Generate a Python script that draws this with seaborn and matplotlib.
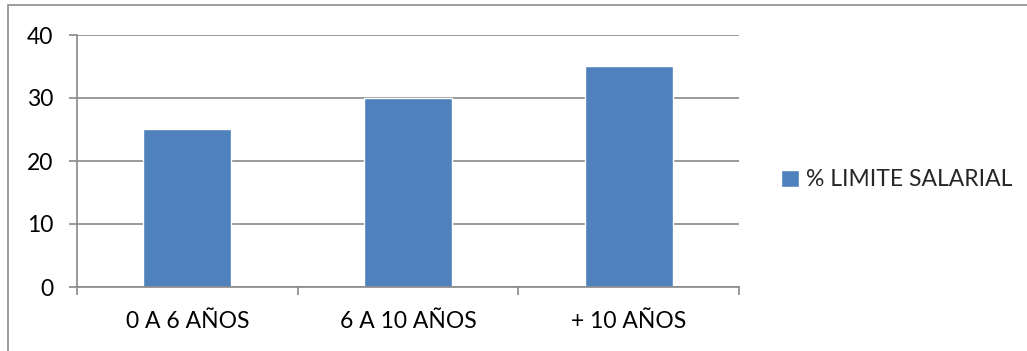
import matplotlib
matplotlib.use("Agg")
import matplotlib.pyplot as plt
from matplotlib.patches import Rectangle
import seaborn as sns
import pandas as pd

categories = ["0 A 6 AÑOS", "6 A 10 AÑOS", "+ 10 AÑOS"]
values = [25, 30, 35]
series_name = "% LIMITE SALARIAL"
y_ticks = [0, 10, 20, 30, 40]

df = pd.DataFrame({"grupo": categories, "valor": values, "serie": series_name})

sns.set_theme(style="white")
plt.rcParams["font.family"] = ["Lato", "DejaVu Sans"]

BAR = "#4F81BD"
GRID = "#898989"

fig = plt.figure(figsize=(10.27, 3.51), dpi=100)
ax = fig.add_axes([77 / 1027, 1 - 287 / 351, (739 - 77) / 1027, (287 - 35) / 351])

sns.barplot(data=df, x="grupo", y="valor", hue="serie", palette=[BAR],
            width=0.4, ax=ax, legend=True, saturation=1)

ax.set_xlim(-0.5, 2.5)
ax.set_ylim(0, 40)
ax.set_yticks(y_ticks)
ax.set_xlabel("")
ax.set_ylabel("")

ax.yaxis.grid(True, color=GRID, linewidth=1.2)
ax.set_axisbelow(True)
for side in ["top", "right"]:
    ax.spines[side].set_visible(False)
for side in ["left", "bottom"]:
    ax.spines[side].set_color(GRID)
    ax.spines[side].set_linewidth(1.2)

ax.tick_params(axis="y", which="major", length=6, width=1.2, color=GRID,
               direction="out", left=True, pad=11, labelsize=16.5, labelcolor="black")
ax.tick_params(axis="x", which="major", length=0, pad=17, labelsize=16.5,
               labelcolor="black")
ax.set_xticks([-0.5, 0.5, 1.5, 2.5], minor=True)
ax.tick_params(axis="x", which="minor", length=6, width=1.2, color=GRID,
               direction="out", bottom=True)

leg = ax.legend(loc="center left", bbox_to_anchor=(760 / 1027, 1 - 180 / 351),
                bbox_transform=fig.transFigure, frameon=False, fontsize=16.5,
                handlelength=0.8, handleheight=0.8, handletextpad=0.3)

# chart frame
fig.patches.append(Rectangle((8 / 1027, -0.1), 1.2, 1 - 5 / 351 + 0.1,
                             transform=fig.transFigure, fill=False,
                             edgecolor="#8c8c8c", linewidth=1.2))

fig.savefig("out.png", dpi=100)
